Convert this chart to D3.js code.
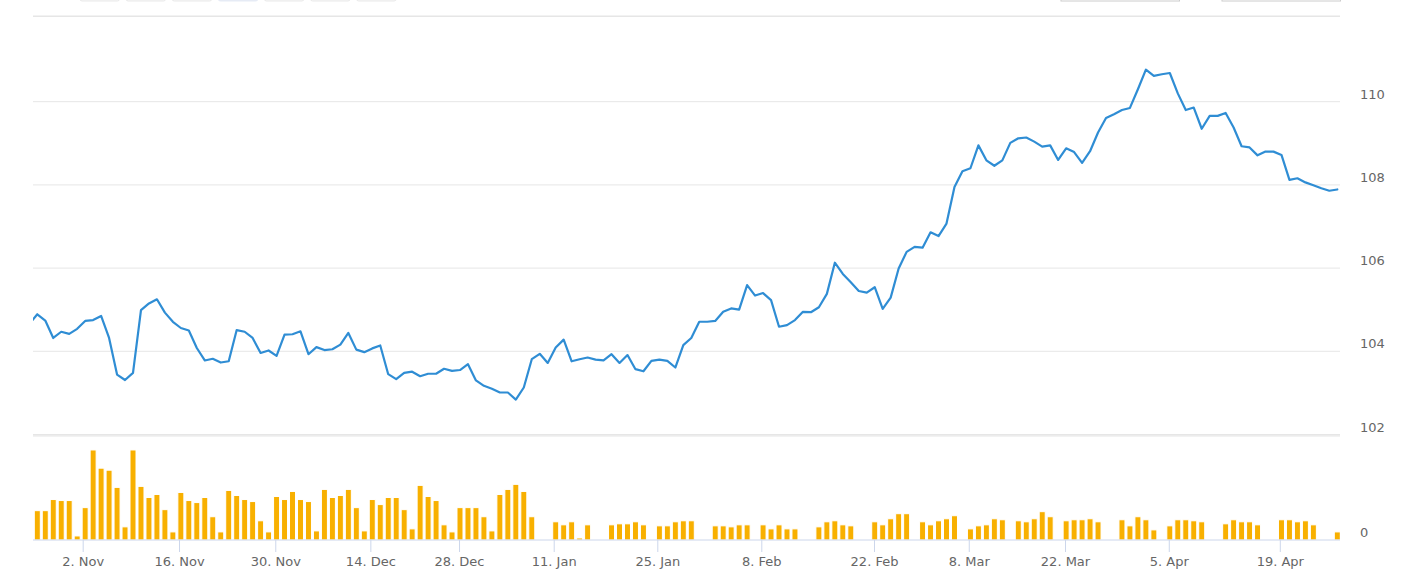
<!DOCTYPE html>
<html>
<head>
<meta charset="utf-8">
<script src="https://cdn.jsdelivr.net/npm/d3@7"></script>
<style>
  html, body { margin: 0; padding: 0; background: #ffffff; }
  svg { display: block; font-family: "DejaVu Sans", sans-serif; }
</style>
</head>
<body>
<svg id="chart" width="1412" height="585"></svg>
<script>
// ---- data (one entry per trading point, ordinal axis) ----
const prices = [
  104.66, 104.89, 104.74, 104.32, 104.47, 104.42, 104.54, 104.73, 104.75, 104.85,
  104.32, 103.44, 103.31, 103.48, 104.99, 105.15, 105.25, 104.93, 104.71, 104.56,
  104.50, 104.08, 103.78, 103.82, 103.73, 103.76, 104.51, 104.47, 104.32, 103.96,
  104.02, 103.89, 104.40, 104.41, 104.48, 103.93, 104.10, 104.03, 104.05, 104.16,
  104.44, 104.04, 103.98, 104.07, 104.14, 103.45, 103.33, 103.48, 103.51, 103.40,
  103.46, 103.46, 103.58, 103.53, 103.55, 103.69, 103.30, 103.17, 103.10, 103.01,
  103.01, 102.84, 103.13, 103.81, 103.94, 103.72, 104.09, 104.28, 103.76, 103.81,
  103.85, 103.80, 103.78, 103.93, 103.72, 103.91, 103.57, 103.52, 103.77, 103.80,
  103.77, 103.61, 104.15, 104.32, 104.71, 104.71, 104.73, 104.95, 105.03, 105.00,
  105.59, 105.34, 105.40, 105.23, 104.59, 104.63, 104.75, 104.95, 104.94, 105.06,
  105.38, 106.13, 105.86, 105.66, 105.45, 105.41, 105.54, 105.02, 105.29, 105.99,
  106.39, 106.51, 106.49, 106.86, 106.77, 107.07, 107.95, 108.33, 108.40, 108.95,
  108.59, 108.46, 108.59, 109.01, 109.12, 109.14, 109.04, 108.92, 108.95, 108.60,
  108.88, 108.79, 108.53, 108.81, 109.26, 109.61, 109.70, 109.80, 109.85, 110.30,
  110.77, 110.62, 110.66, 110.69, 110.20, 109.80, 109.86, 109.35, 109.66, 109.66,
  109.73, 109.38, 108.93, 108.90, 108.71, 108.80, 108.80, 108.72, 108.12, 108.16,
  108.06, 107.99, 107.92, 107.86, 107.89
];

const volumes = [
  null, 29, 29, 40, 39, 39, 4, 32, 89, 71,
  69, 52, 13, 89, 53, 42, 45, 30, 8, 47,
  39, 37, 42, 23, 8, 49, 44, 40, 38, 19,
  8, 43, 40, 48, 40, 38, 9, 50, 42, 44,
  50, 32, 9, 40, 35, 42, 42, 30, 11, 54,
  43, 39, 15, 8, 32, 32, 32, 23, 9, 45,
  50, 55, 48, 23, null, null, 18, 15, 18, 2,
  15, null, null, 15, 16, 16, 18, 15, null, 14,
  14, 18, 19, 19, null, null, 14, 14, 13, 15,
  15, null, 15, 11, 15, 11, 11, null, null, 13,
  18, 19, 15, 14, null, null, 18, 15, 21, 26,
  26, null, 18, 15, 19, 21, 24, null, 11, 14,
  15, 21, 20, null, 19, 18, 21, 28, 23, null,
  19, 20, 20, 21, 18, null, null, 20, 14, 23,
  20, 10, null, 14, 20, 20, 19, 18, null, null,
  16, 20, 18, 18, 15, null, null, 20, 20, 18,
  19, 15, null, null, 8
];

// x-axis tick labels and their (ordinal) positions
const tickLabels = ["2. Nov", "16. Nov", "30. Nov", "14. Dec", "28. Dec", "11. Jan", "25. Jan",
                    "8. Feb", "22. Feb", "8. Mar", "22. Mar", "5. Apr", "19. Apr"];
const tickPositions = [6.69, 18.77, 30.84, 42.76, 53.88, 65.75, 78.74,
                       91.78, 105.91, 117.79, 129.86, 142.87, 156.79];

const priceTicks = [102, 104, 106, 108, 110];
const volumeTicks = [0];

// range selector buttons (partly out of view at the top)
const rangeButtons = [0, 1, 2, 3, 4, 5, 6];
const selectedButton = 3;

// ---- layout ----
const svg = d3.select("#chart");
const plotLeft = 33, plotRight = 1340;
const volTop = 435.8, volBottom = 540;

const x = d3.scaleLinear().domain([1, prices.length - 1]).range([37.3, 1337.3]);
const yPrice = d3.scaleLinear().domain([102, 110]).range([434.5, 101.7]);
const yVol = d3.scaleLinear().domain([0, 103]).range([volBottom, volTop]);

const defs = svg.append("defs");
defs.append("clipPath").attr("id", "plotClip")
  .append("rect").attr("x", plotLeft).attr("y", 0)
  .attr("width", plotRight - plotLeft).attr("height", volBottom);

// range selector buttons + inputs (cut off at the top edge)
svg.append("g").selectAll("rect").data(rangeButtons).join("rect")
  .attr("x", d => 80 + d * 46.1).attr("y", -22).attr("width", 39.5).attr("height", 23)
  .attr("rx", 2)
  .attr("fill", d => d === selectedButton ? "#e6ebf5" : "#f7f7f7")
  .attr("stroke", d => d === selectedButton ? "#e6ebf5" : "#e9e9e9")
  .attr("stroke-width", 1);
svg.append("g").selectAll("rect").data([1061, 1222]).join("rect")
  .attr("x", d => d).attr("y", -22).attr("width", 118.5).attr("height", 23)
  .attr("fill", "#ffffff").attr("stroke", "#cccccc").attr("stroke-width", 1);

// top border line
svg.append("line")
  .attr("x1", plotLeft).attr("x2", plotRight).attr("y1", 16.2).attr("y2", 16.2)
  .attr("stroke", "#e6e6e6").attr("stroke-width", 1.6);

// price grid
const gPriceAxis = svg.append("g");
gPriceAxis.selectAll("line").data(priceTicks).join("line")
  .attr("x1", plotLeft).attr("x2", plotRight)
  .attr("y1", d => yPrice(d)).attr("y2", d => yPrice(d))
  .attr("stroke", "#e6e6e6").attr("stroke-width", 1);
gPriceAxis.selectAll("text").data(priceTicks).join("text")
  .attr("x", 1360).attr("y", d => yPrice(d) - 3)
  .attr("fill", "#666666").attr("font-size", 13)
  .text(d => d3.format("d")(d));

// volume pane top line
svg.append("line")
  .attr("x1", plotLeft).attr("x2", plotRight).attr("y1", volTop).attr("y2", volTop)
  .attr("stroke", "#e6e6e6").attr("stroke-width", 1.2);

// volume axis labels
svg.append("g").selectAll("text").data(volumeTicks).join("text")
  .attr("x", 1360).attr("y", d => yVol(d) - 3)
  .attr("fill", "#666666").attr("font-size", 13)
  .text(d => d);

// volume bars
const volData = volumes.map((v, i) => ({ i, v })).filter(d => d.v !== null);
svg.append("g").attr("clip-path", "url(#plotClip)")
  .selectAll("rect").data(volData).join("rect")
  .attr("x", d => x(d.i) - 3).attr("width", 6)
  .attr("y", d => yVol(d.v)).attr("height", d => yVol(0) - yVol(d.v))
  .attr("fill", "#f8b000").attr("stroke", "#ffffff").attr("stroke-width", 1);

// x axis
const xAxis = d3.axisBottom(x)
  .tickValues(tickPositions)
  .tickFormat((d, i) => tickLabels[i])
  .tickSize(12).tickSizeOuter(0).tickPadding(5);
const gx = svg.append("g").attr("transform", `translate(0,${volBottom})`).call(xAxis);
gx.select(".domain").remove();
gx.append("line").attr("x1", plotLeft).attr("x2", plotRight).attr("y1", 0).attr("y2", 0)
  .attr("stroke", "#ccd6eb").attr("stroke-width", 1);
gx.selectAll(".tick line").attr("stroke", "#ccd6eb");
gx.selectAll(".tick text").attr("fill", "#666666").attr("font-size", 13)
  .attr("font-family", "DejaVu Sans, sans-serif").attr("dy", "0.71em");

// price line
const line = d3.line().x((d, i) => x(i)).y(d => yPrice(d));
svg.append("path").attr("clip-path", "url(#plotClip)")
  .datum(prices)
  .attr("d", line)
  .attr("fill", "none").attr("stroke", "#2f8dd4").attr("stroke-width", 2.2)
  .attr("stroke-linejoin", "round").attr("stroke-linecap", "round");
</script>
</body>
</html>
